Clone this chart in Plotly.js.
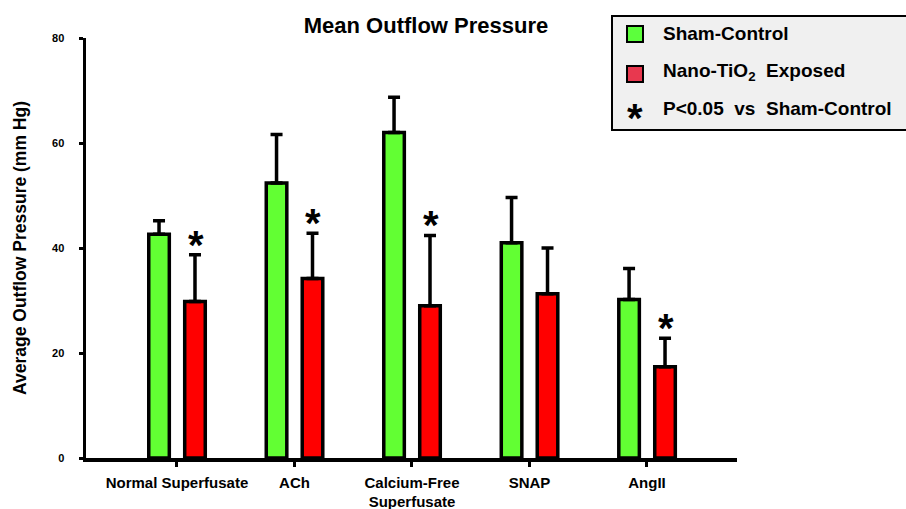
<!DOCTYPE html>
<html>
<head>
<meta charset="utf-8">
<script src="https://cdn.plot.ly/plotly-3.0.1.min.js"></script>
<style>html,body{margin:0;padding:0;background:#fff;}#chart{width:906px;height:509px;}</style>
</head>
<body>
<div id="chart"></div>
<script>
// ---- data ----
const categories = ["Normal Superfusate", "ACh", "Calcium-Free<br>Superfusate", "SNAP", "AngII"];
const shamMean   = [42.6, 52.4, 62.0, 41.0, 30.2];
const shamSEM    = [2.6, 9.2, 6.7, 8.6, 5.9];
const nanoMean   = [29.8, 34.2, 29.0, 31.3, 17.4];
const nanoSEM    = [8.9, 8.6, 13.4, 8.7, 5.4];
const significant = [true, true, true, false, true];
const yTicks = [0, 20, 40, 60, 80];

const FONT = "Arial, 'Liberation Sans', sans-serif";
const BAR_W = 0.175;
const zeros = categories.map(() => 0);

const sham = {
  type: "bar", name: "Sham-Control", x: categories, y: shamMean,
  width: BAR_W, offset: -0.24,
  marker: {color: "#62ff33", line: {color: "#000", width: 3.5}},
  error_y: {type: "data", symmetric: false, array: shamSEM, arrayminus: zeros,
            color: "#000", thickness: 3.5, width: 6},
  showlegend: false, hoverinfo: "x+y"
};
const nano = {
  type: "bar", name: "Nano-TiO2 Exposed", x: categories, y: nanoMean,
  width: BAR_W, offset: 0.066,
  marker: {color: "#ff0000", line: {color: "#000", width: 3.5}},
  error_y: {type: "data", symmetric: false, array: nanoSEM, arrayminus: zeros,
            color: "#000", thickness: 3.5, width: 6},
  showlegend: false, hoverinfo: "x+y"
};

// significance stars above the Nano-TiO2 error bars
const starAnnotations = [];
categories.forEach((c, i) => {
  if (significant[i]) {
    starAnnotations.push({
      x: c, y: nanoMean[i] + nanoSEM[i], xref: "x", yref: "y",
      text: "<b>*</b>", showarrow: false, xshift: 19, yshift: -14,
      xanchor: "center", yanchor: "bottom",
      font: {family: FONT, size: 40, color: "#000"}
    });
  }
});

// custom legend (paper coordinates)
const px = v => (v - 86) / 651;
const py = v => (458 - v) / 420;
const shapes = [
  {type: "rect", xref: "paper", yref: "paper", x0: px(612), x1: px(912), y0: py(130), y1: py(16),
   fillcolor: "#f0f0f0", line: {color: "#000", width: 2}, layer: "above"},
  {type: "rect", xref: "paper", yref: "paper", x0: px(627), x1: px(643), y0: py(42), y1: py(26),
   fillcolor: "#5cff3c", line: {color: "#000", width: 2}, layer: "above"},
  {type: "rect", xref: "paper", yref: "paper", x0: px(627), x1: px(643), y0: py(82), y1: py(66),
   fillcolor: "#e8384f", line: {color: "#000", width: 2}, layer: "above"}
];
const legendFont = {family: FONT, size: 19, color: "#000"};
const legendAnn = [
  {text: "<b>Sham-Control</b>", x: px(661), y: py(33)},
  {text: "<b>Nano-TiO<sub>2</sub>  Exposed</b>", x: px(661), y: py(72)},
  {text: "<b>P&lt;0.05  vs  Sham-Control</b>", x: px(661), y: py(109)}
].map(a => Object.assign(a, {xref: "paper", yref: "paper", xanchor: "left", yanchor: "middle",
                              showarrow: false, font: legendFont}));
legendAnn.push({text: "<b>*</b>", x: px(635), y: py(108), xref: "paper", yref: "paper",
                xanchor: "center", yanchor: "middle", yshift: -10, showarrow: false,
                font: {family: FONT, size: 40, color: "#000"}});

const layout = {
  width: 906, height: 509,
  margin: {l: 86, r: 169, t: 38, b: 51, pad: 0},
  paper_bgcolor: "#fff", plot_bgcolor: "#fff",
  font: {family: FONT, color: "#000"},
  title: {text: "<b>Mean Outflow Pressure</b>", font: {family: FONT, size: 22, color: "#000"},
          x: px(426), xref: "paper", xanchor: "center", y: 1 - 25 / 509, yanchor: "middle"},
  barmode: "overlay",
  xaxis: {
    type: "category", range: [-0.774, 4.766],
    showline: true, linecolor: "#000", linewidth: 3.5,
    ticks: "outside", ticklen: 5, tickwidth: 3, tickcolor: "#000",
    tickfont: {family: FONT, size: 15, color: "#000"},
    ticklabelstandoff: 3,
    showgrid: false, zeroline: false, fixedrange: true,
    tickvals: categories, ticktext: categories.map(c => "<b>" + c + "</b>")
  },
  yaxis: {
    range: [0, 80], tickvals: yTicks, ticktext: yTicks.map(t => "<b>" + t + "</b>"),
    showline: true, linecolor: "#000", linewidth: 3.5,
    ticks: "outside", ticklen: 4, tickwidth: 3, tickcolor: "#000",
    tickfont: {family: FONT, size: 11, color: "#000"},
    ticklabelstandoff: 12,
    showgrid: false, zeroline: false, fixedrange: true,
    title: {text: "<b>Average Outflow Pressure (mm Hg)</b>", font: {family: FONT, size: 17.5, color: "#000"}, standoff: 22}
  },
  shapes: shapes,
  annotations: starAnnotations.concat(legendAnn),
  showlegend: false
};

Plotly.newPlot("chart", [sham, nano], layout, {displayModeBar: false, staticPlot: true});
</script>
</body>
</html>
